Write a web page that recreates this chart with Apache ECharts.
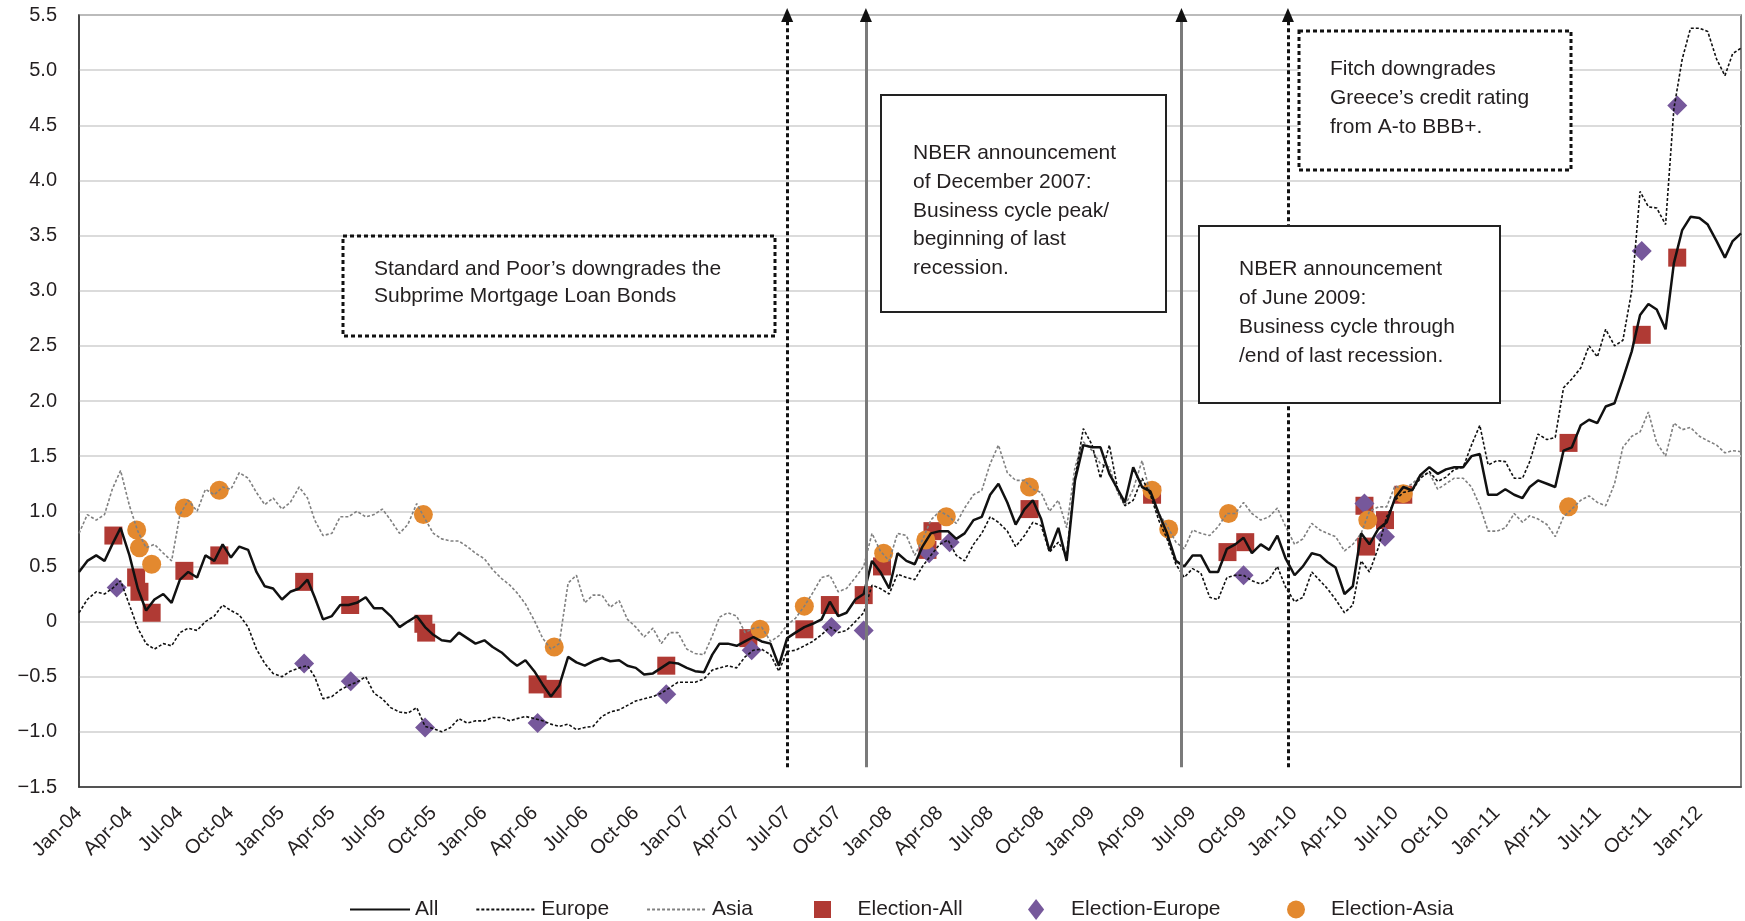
<!DOCTYPE html>
<html>
<head>
<meta charset="utf-8">
<script src="https://cdn.jsdelivr.net/npm/echarts@6/dist/echarts.min.js"></script>
<style>
  html, body { margin: 0; padding: 0; background: #fff; }
  #chart { width: 1745px; height: 921px; }
</style>
</head>
<body>
<div id="chart"></div>
<script>
// values every half month (1st and 16th), Jan 2004 .. Mar 2012
var allValues = [
  0.45, 0.55, 0.6, 0.55, 0.7, 0.85, 0.6, 0.3, 0.1, 0.2, 0.25, 0.17, 0.38, 0.45, 0.4, 0.6, 0.55, 0.7, 0.58, 0.68, 0.65, 0.45, 0.32, 0.3,
  0.2, 0.27, 0.3, 0.38, 0.22, 0.02, 0.05, 0.15, 0.15, 0.17, 0.22, 0.12, 0.12, 0.05, -0.05, 0.0, 0.05, -0.05, -0.12, -0.17, -0.18, -0.1, -0.15, -0.2,
  -0.17, -0.23, -0.28, -0.35, -0.4, -0.35, -0.45, -0.57, -0.68, -0.58, -0.32, -0.37, -0.4, -0.36, -0.33, -0.36, -0.35, -0.4, -0.42, -0.48, -0.47, -0.42, -0.37, -0.38,
  -0.42, -0.45, -0.46, -0.3, -0.2, -0.2, -0.22, -0.18, -0.14, -0.18, -0.2, -0.4, -0.15, -0.1, -0.05, -0.02, 0.02, 0.18, 0.05, 0.08, 0.2, 0.25, 0.55, 0.45,
  0.3, 0.62, 0.55, 0.52, 0.68, 0.8, 0.82, 0.82, 0.75, 0.8, 0.92, 0.95, 1.15, 1.25, 1.08, 0.88, 1.02, 1.1, 0.93, 0.64, 0.85, 0.55, 1.28, 1.6,
  1.58, 1.58, 1.34, 1.2, 1.08, 1.4, 1.22, 1.18, 0.98, 0.8, 0.55, 0.5, 0.6, 0.6, 0.45, 0.45, 0.66, 0.7, 0.76, 0.62, 0.7, 0.65, 0.78, 0.57,
  0.42, 0.5, 0.62, 0.6, 0.54, 0.49, 0.25, 0.32, 0.8, 0.7, 0.84, 0.9, 1.12, 1.22, 1.19, 1.33, 1.4, 1.34, 1.38, 1.4, 1.4, 1.5, 1.52, 1.15,
  1.15, 1.2, 1.15, 1.12, 1.22, 1.28, 1.25, 1.22, 1.55, 1.58, 1.78, 1.83, 1.8, 1.95, 1.98, 2.2, 2.45, 2.78, 2.88, 2.83, 2.65, 3.25, 3.55, 3.67,
  3.66, 3.6, 3.45, 3.3, 3.45, 3.52
];
var europeValues = [
  0.08, 0.2, 0.27, 0.25, 0.3, 0.37, 0.15, -0.06, -0.2, -0.25, -0.2, -0.22, -0.1, -0.06, -0.08, 0.0, 0.05, 0.15, 0.1, 0.06, -0.05, -0.25, -0.38, -0.47,
  -0.5, -0.45, -0.42, -0.4, -0.5, -0.7, -0.68, -0.62, -0.58, -0.55, -0.5, -0.65, -0.7, -0.78, -0.82, -0.83, -0.78, -0.95, -0.97, -1.0, -0.96, -0.88, -0.92, -0.9,
  -0.9, -0.87, -0.87, -0.9, -0.88, -0.86, -0.88, -0.9, -0.93, -0.95, -0.93, -0.98, -0.96, -0.95, -0.86, -0.82, -0.8, -0.76, -0.72, -0.7, -0.68, -0.65, -0.6, -0.55,
  -0.55, -0.55, -0.52, -0.44, -0.42, -0.4, -0.42, -0.32, -0.26, -0.25, -0.3, -0.45, -0.27, -0.26, -0.22, -0.18, -0.12, -0.05, -0.1, -0.08, 0.0, 0.08, 0.33, 0.3,
  0.25, 0.43, 0.4, 0.38, 0.5, 0.6, 0.7, 0.74, 0.6, 0.55, 0.7, 0.8, 0.95, 0.9, 0.82, 0.68, 0.78, 0.9, 0.87, 0.63, 0.72, 0.6, 1.3, 1.75,
  1.6, 1.3, 1.6, 1.2, 1.05, 1.1, 1.3, 1.15, 0.92, 0.75, 0.52, 0.4, 0.48, 0.44, 0.22, 0.2, 0.4, 0.42, 0.42, 0.37, 0.34, 0.38, 0.5, 0.31,
  0.18, 0.22, 0.45, 0.37, 0.3, 0.2, 0.08, 0.15, 0.55, 0.45, 0.67, 0.95, 1.1, 1.17, 1.19, 1.3, 1.36, 1.27, 1.31, 1.38, 1.4, 1.6, 1.78, 1.42,
  1.46, 1.45, 1.3, 1.3, 1.45, 1.7, 1.65, 1.67, 2.12, 2.2, 2.3, 2.5, 2.4, 2.65, 2.5, 2.55, 3.0, 3.9, 3.76, 3.75, 3.6, 4.65, 5.1, 5.38,
  5.38, 5.35, 5.1, 4.95, 5.15, 5.2
];
var asiaValues = [
  0.8, 0.97, 0.92, 0.97, 1.2, 1.37, 1.05, 0.82, 0.67, 0.7, 0.62, 0.55, 0.97, 1.1, 1.0, 1.2, 1.15, 1.22, 1.2, 1.35, 1.3, 1.17, 1.06, 1.12,
  1.02, 1.08, 1.22, 1.12, 0.92, 0.78, 0.8, 0.95, 0.95, 1.0, 0.95, 0.97, 1.02, 0.92, 0.8, 0.88, 1.07, 0.93, 0.8, 0.75, 0.73, 0.73, 0.68, 0.62,
  0.57, 0.47, 0.39, 0.33, 0.26, 0.16, 0.01, -0.15, -0.25, -0.2, 0.35, 0.42, 0.17, 0.24, 0.24, 0.13, 0.19, 0.02, -0.05, -0.14, -0.06, -0.2, -0.1, -0.1,
  -0.25, -0.29, -0.3, -0.13, 0.04, 0.08, 0.05, -0.1, -0.06, -0.05, -0.18, -0.13, -0.03, 0.03, 0.14, 0.26, 0.4, 0.42, 0.27, 0.3, 0.4, 0.5, 0.8, 0.64,
  0.55, 0.8, 0.78, 0.6, 0.74, 0.92, 1.0, 0.96, 0.89, 1.03, 1.15, 1.19, 1.43, 1.6, 1.35, 1.28, 1.28, 1.2, 1.17, 1.0, 1.1, 0.85, 1.4, 1.63,
  1.55, 1.43, 1.4, 1.17, 1.05, 1.2, 1.46, 1.15, 0.98, 0.87, 0.72, 0.66, 0.83, 0.8, 0.78, 0.86, 0.98, 0.98, 1.08, 0.98, 0.92, 0.95, 1.03, 0.86,
  0.7, 0.75, 0.89, 0.83, 0.8, 0.77, 0.64, 0.7, 0.8, 1.0, 1.04, 1.04, 1.23, 1.2, 1.25, 1.32, 1.35, 1.2, 1.25, 1.3, 1.3, 1.22, 1.05, 0.82,
  0.82, 0.85, 0.98, 0.9, 0.96, 0.93, 0.88, 0.77, 0.95, 1.02, 1.1, 1.14, 1.08, 1.05, 1.25, 1.58, 1.68, 1.72, 1.9, 1.62, 1.5, 1.8, 1.74, 1.76,
  1.68, 1.64, 1.6, 1.53, 1.55, 1.54
];

// election days
var electionAll = [
  ["2004-03-03", 0.78], ["2004-04-13", 0.4], ["2004-04-19", 0.27], ["2004-05-11", 0.08], ["2004-07-09", 0.46],
  ["2004-09-10", 0.6], ["2005-02-10", 0.36], ["2005-05-04", 0.15], ["2005-09-13", -0.02], ["2005-09-18", -0.1],
  ["2006-04-07", -0.57], ["2006-05-04", -0.61], ["2006-11-25", -0.4], ["2007-04-22", -0.15], ["2007-08-01", -0.07],
  ["2007-09-16", 0.15], ["2007-11-16", 0.24], ["2007-12-19", 0.5], ["2008-03-10", 0.65], ["2008-03-19", 0.82],
  ["2008-09-10", 1.02], ["2009-04-19", 1.15], ["2009-09-02", 0.63], ["2009-10-04", 0.72], ["2010-05-07", 1.05],
  ["2010-05-10", 0.68], ["2010-06-13", 0.92], ["2010-07-16", 1.15], ["2011-05-10", 1.62], ["2011-09-19", 2.6],
  ["2011-11-22", 3.3]
];
var electionEurope = [
  ["2004-03-09", 0.31], ["2005-02-10", -0.38], ["2005-05-05", -0.54], ["2005-09-16", -0.96], ["2006-04-07", -0.92],
  ["2006-11-25", -0.66], ["2007-04-28", -0.26], ["2007-09-19", -0.05], ["2007-11-16", -0.08], ["2008-03-13", 0.62],
  ["2008-04-19", 0.72], ["2009-10-01", 0.42], ["2010-05-07", 1.07], ["2010-06-13", 0.77], ["2011-09-19", 3.36],
  ["2011-11-22", 4.68]
];
var electionAsia = [
  ["2004-04-14", 0.83], ["2004-04-19", 0.67], ["2004-05-11", 0.52], ["2004-07-09", 1.03], ["2004-09-10", 1.19],
  ["2005-09-13", 0.97], ["2006-05-07", -0.23], ["2007-05-13", -0.07], ["2007-08-01", 0.14], ["2007-12-22", 0.62],
  ["2008-03-07", 0.74], ["2008-04-13", 0.95], ["2008-09-10", 1.22], ["2009-04-19", 1.19], ["2009-05-19", 0.84],
  ["2009-09-04", 0.98], ["2010-05-13", 0.92], ["2010-07-16", 1.16], ["2011-05-10", 1.04]
];

// event lines: S&P, NBER peak, NBER trough, Fitch
var eventDates = ["2007-07-01", "2007-11-20", "2009-06-11", "2009-12-20"];
var eventDotted = [true, false, false, true];

var monthNames = ["Jan", "Feb", "Mar", "Apr", "May", "Jun", "Jul", "Aug", "Sep", "Oct", "Nov", "Dec"];

var DAY = 86400000;
var T0 = Date.UTC(2004, 0, 1);
function dayOf(s) {
  var p = s.split("-");
  return (Date.UTC(+p[0], +p[1] - 1, +p[2]) - T0) / DAY;
}
function halfMonthDay(k) {
  return (Date.UTC(2004, Math.floor(k / 2), k % 2 ? 16 : 1) - T0) / DAY;
}
function pairUp(values) {
  return values.map(function (v, k) { return [halfMonthDay(k), v]; });
}
function datedPairs(list) {
  return list.map(function (d) { return [dayOf(d[0]), d[1]]; });
}

var FONT = '"Liberation Sans", Arial, sans-serif';
var TEXT = "#231f20";

// legend keys for the marker series
var squareIcon = "path://M0,0H10V10H0Z";
var diamondIcon = "path://M5,0L10,6.5L5,13L0,6.5Z";
var circleIcon = "path://M5,0A5,5,0,1,1,5,10A5,5,0,1,1,5,0Z";

function markerLegend(name, icon, left, h) {
  return {
    data: [{ name: name, icon: icon }],
    left: left, top: 894,
    itemWidth: 60, itemHeight: h,
    symbolKeepAspect: true,
    textStyle: { fontSize: 21, color: TEXT, fontFamily: FONT }
  };
}

var chart = echarts.init(document.getElementById("chart"));

var eventDays = eventDates.map(dayOf);

var option = {
  animation: false,
  backgroundColor: "#fff",
  textStyle: { fontFamily: FONT },
  grid: {
    left: 79, right: 4, top: 15, bottom: 134,
    show: true, borderColor: "#555", borderWidth: 1.5
  },
  legend: [
    {
      data: [
        { name: "All", itemStyle: { opacity: 0 } },
        { name: "Europe", itemStyle: { opacity: 0 } },
        { name: "Asia", itemStyle: { opacity: 0 } }
      ],
      left: 344, top: 894,
      itemWidth: 60, itemHeight: 17, itemGap: 37,
      textStyle: { fontSize: 21, color: TEXT, fontFamily: FONT }
    },
    markerLegend("Election-All", squareIcon, 809, 17),
    markerLegend("Election-Europe", diamondIcon, 1023, 21),
    markerLegend("Election-Asia", circleIcon, 1282, 18)
  ],
  xAxis: {
    type: "value",
    min: 0, max: 2997,
    interval: 91.3125,
    axisLine: { show: true, onZero: false, lineStyle: { color: "#333", width: 1.5 } },
    axisTick: { show: false },
    splitLine: { show: false },
    axisLabel: {
      rotate: 45, margin: 23, fontSize: 20, color: TEXT, fontFamily: FONT,
      showMaxLabel: false,
      formatter: function (d) {
        var t = new Date(T0 + d * DAY);
        var y = t.getUTCFullYear(), m = t.getUTCMonth();
        if (t.getUTCDate() > 15) { m += 1; if (m > 11) { m = 0; y += 1; } }
        return monthNames[m] + "-" + String(y).slice(2);
      }
    }
  },
  yAxis: {
    type: "value",
    min: -1.5, max: 5.5, interval: 0.5,
    axisLine: { show: true, lineStyle: { color: "#333", width: 1.5 } },
    axisTick: { show: false },
    splitLine: { show: true, lineStyle: { color: "#cfcfcf", width: 1.5 } },
    axisLabel: {
      margin: 22, fontSize: 20, color: TEXT, fontFamily: FONT,
      formatter: function (v) {
        if (Math.abs(v) < 1e-9) return "0";
        var s = Math.abs(v).toFixed(1);
        return v < 0 ? "\u2212" + s : s;
      }
    }
  },
  series: [
    {
      name: "All", type: "line", data: pairUp(allValues), z: 4,
      symbol: "none", showSymbol: false,
      lineStyle: { color: "#111", width: 2.5 },
      itemStyle: { color: "#111" }
    },
    {
      name: "Europe", type: "line", data: pairUp(europeValues), z: 4,
      symbol: "none", showSymbol: false,
      lineStyle: { color: "#111", width: 1.6, type: [3, 2] },
      itemStyle: { color: "#111" }
    },
    {
      name: "Asia", type: "line", data: pairUp(asiaValues), z: 3,
      symbol: "none", showSymbol: false,
      lineStyle: { color: "#808080", width: 1.6, type: [3, 2] },
      itemStyle: { color: "#808080" }
    },
    {
      name: "Election-All", type: "scatter", data: datedPairs(electionAll), z: 2,
      symbol: "rect", symbolSize: 18,
      itemStyle: { color: "#B03A34", opacity: 1 }
    },
    {
      name: "Election-Europe", type: "scatter", data: datedPairs(electionEurope), z: 2,
      symbol: "diamond", symbolSize: 20,
      itemStyle: { color: "#76589B", opacity: 1 }
    },
    {
      name: "Election-Asia", type: "scatter", data: datedPairs(electionAsia), z: 2,
      symbol: "circle", symbolSize: 19,
      itemStyle: { color: "#E3892F", opacity: 1 }
    },
    {
      name: "events", type: "line", data: [], z: 6, silent: true,
      markLine: {
        silent: true, symbol: ["none", "none"], label: { show: false },
        data: eventDays.map(function (d, i) {
          return [
            { coord: [d, -1.32], lineStyle: eventDotted[i]
                ? { color: "#111", width: 3, type: [4, 3] }
                : { color: "#7a7a7a", width: 3, type: "solid" } },
            { coord: [d, 5.5] }
          ];
        })
      },
      markPoint: {
        silent: true, symbol: "triangle", symbolSize: [12, 14],
        itemStyle: { color: "#111" }, label: { show: false },
        data: eventDays.map(function (d) { return { coord: [d, 5.5] }; })
      }
    }
  ],
  graphic: [
    { type: "rect", z: 100, shape: { x: 343, y: 236, width: 432, height: 100 },
      style: { fill: "#fff", stroke: "#111", lineWidth: 3, lineDash: [4, 3] } },
    { type: "text", z: 101, left: 374, top: 256,
      style: { text: "Standard and Poor\u2019s downgrades the\nSubprime Mortgage Loan Bonds",
        font: "21px " + FONT, fill: TEXT, lineHeight: 27 } },

    { type: "rect", z: 100, shape: { x: 881, y: 95, width: 285, height: 217 },
      style: { fill: "#fff", stroke: "#222", lineWidth: 2 } },
    { type: "text", z: 101, left: 913, top: 139,
      style: { text: "NBER announcement\nof December 2007:\nBusiness cycle peak/\nbeginning of last\nrecession.",
        font: "21px " + FONT, fill: TEXT, lineHeight: 28.7 } },

    { type: "rect", z: 100, shape: { x: 1199, y: 226, width: 301, height: 177 },
      style: { fill: "#fff", stroke: "#222", lineWidth: 2 } },
    { type: "text", z: 101, left: 1239, top: 255,
      style: { text: "NBER announcement\nof June 2009:\nBusiness cycle through\n/end of last recession.",
        font: "21px " + FONT, fill: TEXT, lineHeight: 29 } },

    { type: "rect", z: 100, shape: { x: 1299, y: 31, width: 272, height: 139 },
      style: { fill: "#fff", stroke: "#111", lineWidth: 3, lineDash: [4, 3] } },
    { type: "text", z: 101, left: 1330, top: 55,
      style: { text: "Fitch downgrades\nGreece\u2019s credit rating\nfrom A-to BBB+.",
        font: "21px " + FONT, fill: TEXT, lineHeight: 29 } }
  ]
};

chart.setOption(option);
</script>
</body>
</html>
